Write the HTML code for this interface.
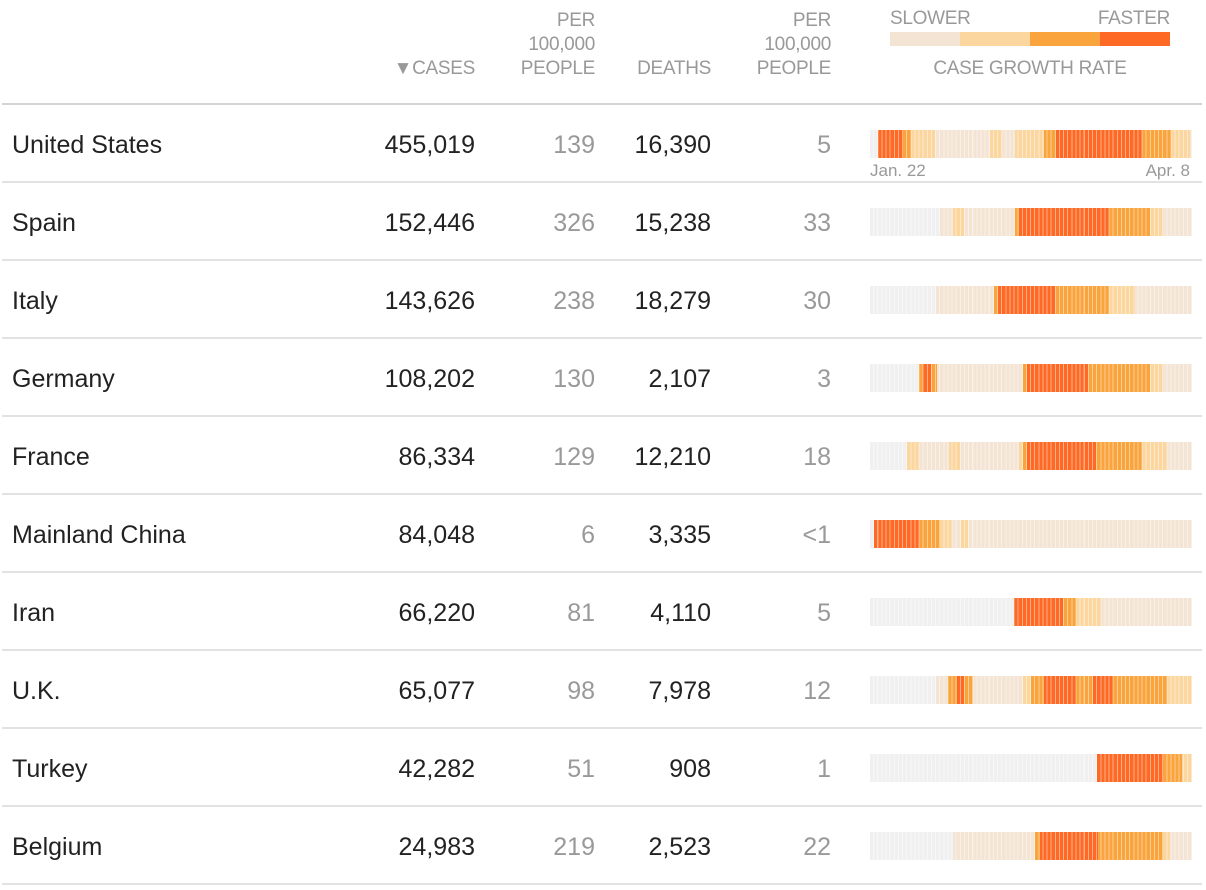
<!DOCTYPE html>
<html><head><meta charset="utf-8"><style>
body{margin:0;width:1206px;height:890px;background:#fff;font-family:"Liberation Sans",sans-serif;position:relative;overflow:hidden}
.h{position:absolute;color:#999;font-size:19px;line-height:24px;text-align:right;font-family:"Liberation Sans Narrow","Liberation Sans",sans-serif;letter-spacing:-0.3px}
.hl{position:absolute;left:2px;width:1200px;top:103px;height:2px;background:#d4d4d4}
.row{position:absolute;left:2px;width:1200px;height:78px;border-bottom:2px solid #e2e2e2;box-sizing:border-box}
.c{position:absolute;top:25px;font-size:25px;line-height:30px;color:#222}
.n{text-align:right}
.g{color:#999}
.bar{position:absolute;left:868px;top:25px;width:322px;height:28px}
.bar:after{content:"";position:absolute;inset:0;background:repeating-linear-gradient(90deg,transparent 0 3.1px,rgba(255,255,255,.45) 3.1px 4.13px)}
</style></head><body>
<div class="h" style="left:380px;top:57px;width:95px">▼CASES</div>
<div class="h" style="left:480px;top:9px;width:115px">PER<br>100,000<br>PEOPLE</div>
<div class="h" style="left:600px;top:57px;width:111px">DEATHS</div>
<div class="h" style="left:716px;top:9px;width:115px">PER<br>100,000<br>PEOPLE</div>
<div class="h" style="left:890px;top:7px;text-align:left">SLOWER</div>
<div class="h" style="left:1070px;top:7px;width:100px">FASTER</div>
<div style="position:absolute;left:890px;top:32px;width:280px;height:14px;background:linear-gradient(90deg,#f4e4d4 0 25%,#fcd69f 25% 50%,#f9a43c 50% 75%,#fe6a25 75%)"></div>
<div class="h" style="left:890px;top:57px;width:280px;text-align:center">CASE GROWTH RATE</div>
<div class="hl"></div>

<div class="row" style="top:105px"><div class="c" style="left:10px">United States</div><div class="c n" style="right:727px">455,019</div><div class="c n g" style="right:607px">139</div><div class="c n" style="right:491px">16,390</div><div class="c n g" style="right:371px">5</div>
<div class="bar" style="background:linear-gradient(90deg,#f0f0f0 0 8px,#fe6a25 8px 33px,#f9a43c 33px 41px,#fcd69f 41px 65px,#f4e4d4 65px 120px,#fcd69f 120px 132px,#f4e4d4 132px 145px,#fcd69f 145px 174px,#f9a43c 174px 186px,#fe6a25 186px 272px,#f9a43c 272px 301px,#fcd69f 301px 320px,#f4e4d4 320px)"></div>
<div style="position:absolute;left:868px;top:56px;font-size:17px;color:#999">Jan. 22</div><div style="position:absolute;right:12px;top:56px;font-size:17px;color:#999">Apr. 8</div></div>

<div class="row" style="top:183px"><div class="c" style="left:10px">Spain</div><div class="c n" style="right:727px">152,446</div><div class="c n g" style="right:607px">326</div><div class="c n" style="right:491px">15,238</div><div class="c n g" style="right:371px">33</div>
<div class="bar" style="background:linear-gradient(90deg,#f0f0f0 0 70px,#f4e4d4 70px 83px,#fcd69f 83px 94px,#f4e4d4 94px 145px,#f9a43c 145px 149px,#fe6a25 149px 239px,#f9a43c 239px 280px,#fcd69f 280px 293px,#f4e4d4 293px)"></div></div>

<div class="row" style="top:261px"><div class="c" style="left:10px">Italy</div><div class="c n" style="right:727px">143,626</div><div class="c n g" style="right:607px">238</div><div class="c n" style="right:491px">18,279</div><div class="c n g" style="right:371px">30</div>
<div class="bar" style="background:linear-gradient(90deg,#f0f0f0 0 66px,#f4e4d4 66px 124px,#f9a43c 124px 128px,#fe6a25 128px 185px,#f9a43c 185px 239px,#fcd69f 239px 265px,#f4e4d4 265px)"></div></div>

<div class="row" style="top:339px"><div class="c" style="left:10px">Germany</div><div class="c n" style="right:727px">108,202</div><div class="c n g" style="right:607px">130</div><div class="c n" style="right:491px">2,107</div><div class="c n g" style="right:371px">3</div>
<div class="bar" style="background:linear-gradient(90deg,#f0f0f0 0 49px,#f9a43c 49px 53px,#fe6a25 53px 61px,#f9a43c 61px 67px,#f4e4d4 67px 153px,#f9a43c 153px 157px,#fe6a25 157px 218px,#f9a43c 218px 280px,#fcd69f 280px 293px,#f4e4d4 293px)"></div></div>

<div class="row" style="top:417px"><div class="c" style="left:10px">France</div><div class="c n" style="right:727px">86,334</div><div class="c n g" style="right:607px">129</div><div class="c n" style="right:491px">12,210</div><div class="c n g" style="right:371px">18</div>
<div class="bar" style="background:linear-gradient(90deg,#f0f0f0 0 37px,#fcd69f 37px 49px,#f4e4d4 49px 79px,#fcd69f 79px 90px,#f4e4d4 90px 149px,#fcd69f 149px 153px,#f9a43c 153px 157px,#fe6a25 157px 226px,#f9a43c 226px 272px,#fcd69f 272px 297px,#f4e4d4 297px)"></div></div>

<div class="row" style="top:495px"><div class="c" style="left:10px">Mainland China</div><div class="c n" style="right:727px">84,048</div><div class="c n g" style="right:607px">6</div><div class="c n" style="right:491px">3,335</div><div class="c n g" style="right:371px">&lt;1</div>
<div class="bar" style="background:linear-gradient(90deg,#f0f0f0 0 4px,#fe6a25 4px 49px,#f9a43c 49px 70px,#fcd69f 70px 82px,#f4e4d4 82px 91px,#fcd69f 91px 98px,#f4e4d4 98px)"></div></div>

<div class="row" style="top:573px"><div class="c" style="left:10px">Iran</div><div class="c n" style="right:727px">66,220</div><div class="c n g" style="right:607px">81</div><div class="c n" style="right:491px">4,110</div><div class="c n g" style="right:371px">5</div>
<div class="bar" style="background:linear-gradient(90deg,#f0f0f0 0 144px,#fe6a25 144px 193px,#f9a43c 193px 206px,#fcd69f 206px 231px,#f4e4d4 231px)"></div></div>

<div class="row" style="top:651px"><div class="c" style="left:10px">U.K.</div><div class="c n" style="right:727px">65,077</div><div class="c n g" style="right:607px">98</div><div class="c n" style="right:491px">7,978</div><div class="c n g" style="right:371px">12</div>
<div class="bar" style="background:linear-gradient(90deg,#f0f0f0 0 66px,#f4e4d4 66px 78px,#f9a43c 78px 87px,#fe6a25 87px 94px,#f9a43c 94px 103px,#f4e4d4 103px 153px,#fcd69f 153px 161px,#f9a43c 161px 174px,#fe6a25 174px 206px,#f9a43c 206px 223px,#fe6a25 223px 243px,#f9a43c 243px 297px,#fcd69f 297px)"></div></div>

<div class="row" style="top:729px"><div class="c" style="left:10px">Turkey</div><div class="c n" style="right:727px">42,282</div><div class="c n g" style="right:607px">51</div><div class="c n" style="right:491px">908</div><div class="c n g" style="right:371px">1</div>
<div class="bar" style="background:linear-gradient(90deg,#f0f0f0 0 227px,#fe6a25 227px 293px,#f9a43c 293px 312px,#fcd69f 312px)"></div></div>

<div class="row" style="top:807px"><div class="c" style="left:10px">Belgium</div><div class="c n" style="right:727px">24,983</div><div class="c n g" style="right:607px">219</div><div class="c n" style="right:491px">2,523</div><div class="c n g" style="right:371px">22</div>
<div class="bar" style="background:linear-gradient(90deg,#f0f0f0 0 83px,#f4e4d4 83px 165px,#f9a43c 165px 170px,#fe6a25 170px 228px,#f9a43c 228px 293px,#fcd69f 293px 300px,#f4e4d4 300px)"></div></div>
</body></html>
